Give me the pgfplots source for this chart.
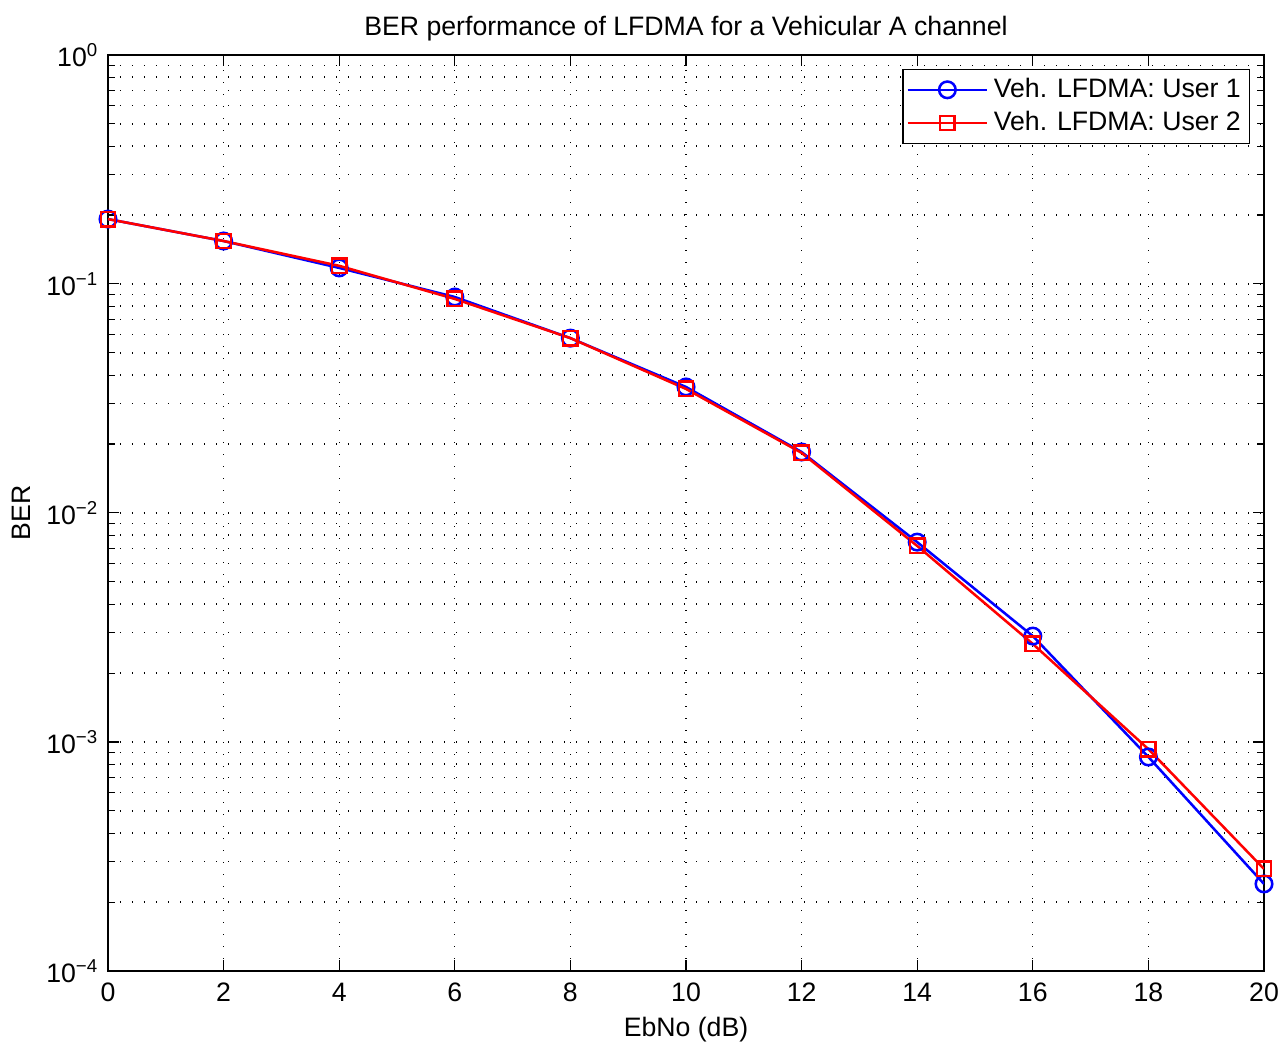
\documentclass[border=0pt]{standalone}
\usepackage{fontspec}
\setmainfont{Liberation Sans}
\usepackage{pgfplots}
\pgfplotsset{compat=1.18}

% BER vs EbNo
\pgfplotstableread{
x ber
0  0.192
2  0.154
4  0.1175
6  0.0877
8  0.058
10 0.0355
12 0.01846
14 0.00746
16 0.0029
18 0.00086
20 0.00024
}\userone
\pgfplotstableread{
x ber
0  0.192
2  0.154
4  0.120
6  0.086
8  0.058
10 0.0348
12 0.0183
14 0.00718
16 0.00268
18 0.00093
20 0.000279
}\usertwo

\begin{document}
\begin{tikzpicture}
\begin{semilogyaxis}[
    name=ax,
    scale only axis,
    width=433.5pt, height=343.5pt,
    xmin=0, xmax=20, ymin=1e-4, ymax=1,
    xtick={0,2,...,20},
    ytick={1e-4,1e-3,1e-2,1e-1,1},
    yticklabels={10\textsuperscript{−4},10\textsuperscript{−3},10\textsuperscript{−2},10\textsuperscript{−1},10\textsuperscript{0}},
    /pgf/number format/assume math mode=true,
    xticklabel style={font=\fontsize{10}{11}\selectfont, yshift=-1pt},
    yticklabel style={font=\fontsize{10}{11}\selectfont},
    tick align=inside,
    major tick length=4pt, minor tick length=2.5pt,
    tick style={black, line width=0.4pt},
    axis line style={line width=0.6pt},
    grid=both,
    major grid style={black, line width=0.5pt, dash pattern=on 0.5pt off 4pt},
    minor grid style={black, line width=0.5pt, dash pattern=on 0.5pt off 4pt},
    minor x tick num=0,
    title={BER performance of LFDMA for a Vehicular A channel},
    title style={font=\fontsize{10}{11}\selectfont, yshift=-4.2pt},
    xlabel={EbNo (dB)},
    ylabel={BER},
    xlabel style={font=\fontsize{10}{11}\selectfont, yshift=1pt},
    ylabel style={font=\fontsize{10}{11}\selectfont, yshift=-1pt},
    legend style={at={(1,1)}, anchor=north east, xshift=-5.25pt, yshift=-5.25pt,
        font=\fontsize{10}{12}\selectfont, draw=black, line width=0.5pt,
        inner sep=1.2pt, row sep=-0.3pt},
    legend cell align=left,
    legend image code/.code={
        \draw[#1] (0cm,0cm) -- (1.05cm,0cm);
        \draw[#1, mark repeat=1, mark phase=1] plot coordinates {(0.525cm,0cm)};
    },
]
\addplot[blue, line width=0.95pt, mark=o, mark size=3.1pt, mark options={solid}]
    table[x=x, y=ber] {\userone};
\addlegendentry{Veh. LFDMA: User 1}
\addplot[red, line width=0.95pt, mark=square, mark size=2.7pt, mark options={solid}]
    table[x=x, y=ber] {\usertwo};
\addlegendentry{Veh. LFDMA: User 2}
\end{semilogyaxis}
\pgfresetboundingbox
\path ([xshift=-40.5pt,yshift=-27pt]ax.south west) rectangle ([xshift=6.75pt,yshift=20.6pt]ax.north east);
\end{tikzpicture}
\end{document}
